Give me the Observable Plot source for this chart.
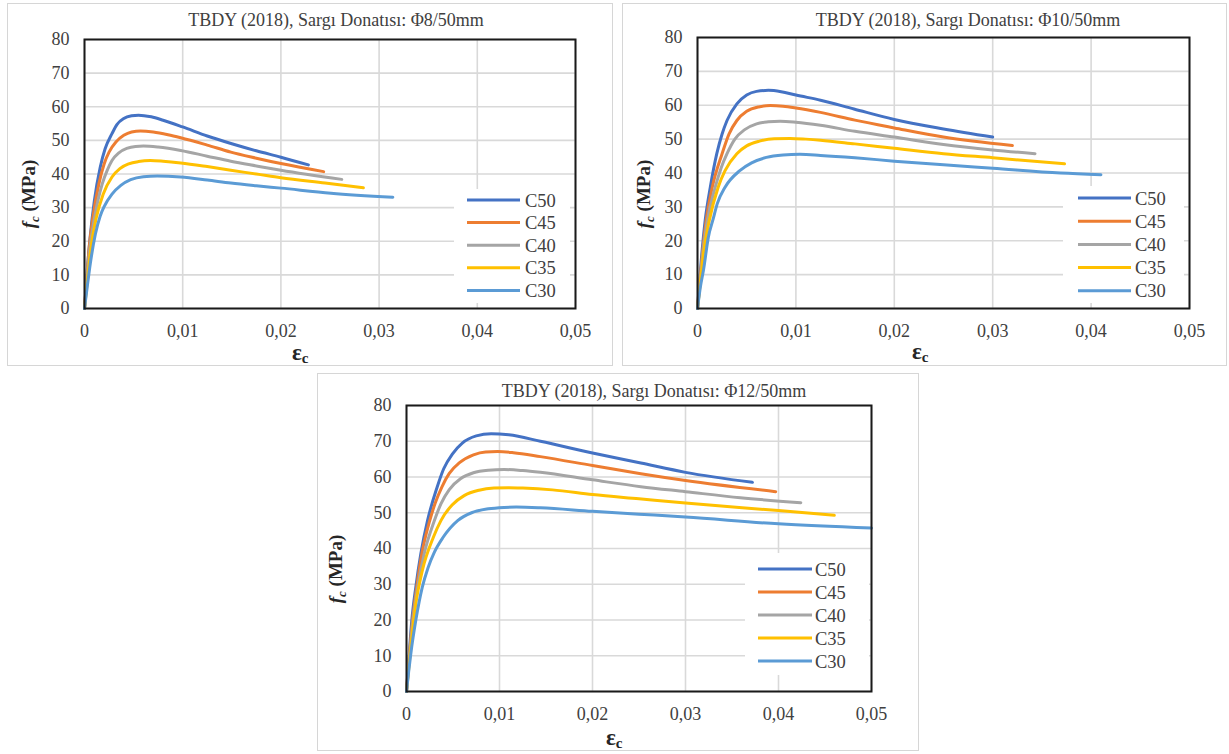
<!DOCTYPE html>
<html><head><meta charset="utf-8">
<script src="https://cdn.jsdelivr.net/npm/d3@7"></script>
<script src="https://cdn.jsdelivr.net/npm/@observablehq/plot@0.6"></script>
<style>
body{margin:0;background:#fff;}
#root{position:relative;width:1229px;height:754px;overflow:hidden;font-family:"Liberation Serif","Times New Roman",serif;}
.panel{position:absolute;border:1.5px solid #d6d6d6;box-sizing:border-box;background:#fff;}
.plotwrap{position:absolute;}
.plotwrap svg text{font-family:"Liberation Serif","Times New Roman",serif !important;}
</style></head><body><div id="root"></div>
<script>
// ---------- data ----------
const xTicks = [0, 0.01, 0.02, 0.03, 0.04, 0.05];
const xTickLabels = ["0", "0,01", "0,02", "0,03", "0,04", "0,05"];
const yTicks = [0, 10, 20, 30, 40, 50, 60, 70, 80];
const yTickLabels = ["0", "10", "20", "30", "40", "50", "60", "70", "80"];
const seriesNames = ["C50", "C45", "C40", "C35", "C30"];
const seriesColors = ["#4472C4", "#ED7D31", "#A5A5A5", "#FFC000", "#5B9BD5"];
const panelTitles = [
  "TBDY (2018), Sargı Donatısı: Φ8/50mm",
  "TBDY (2018), Sargı Donatısı: Φ10/50mm",
  "TBDY (2018), Sargı Donatısı: Φ12/50mm"
];

// Panel 1: Φ8/50mm  [strain εc, stress fc (MPa)]
const p1C50 = [[0,0],[0.00027,11],[0.0006,22],[0.001,32],[0.0016,42],[0.0021,47.5],[0.0028,52],[0.0033,54.7],[0.004,56.5],[0.0048,57.3],[0.0055,57.5],[0.0068,57],[0.008,56],[0.01,54],[0.0125,51.3],[0.015,49],[0.0175,46.9],[0.02,45],[0.0228,42.7]];
const p1C45 = [[0,0],[0.00025,9.5],[0.00044,17],[0.00085,27],[0.00146,37],[0.002,43],[0.0025,46.5],[0.0032,49.5],[0.004,51.5],[0.0048,52.5],[0.0057,52.8],[0.007,52.5],[0.0085,51.7],[0.0098,50.8],[0.0125,48.6],[0.0149,46.5],[0.0175,44.7],[0.02,43.1],[0.02435,40.7]];
const p1C40 = [[0,0],[0.00025,8.5],[0.00051,17],[0.00102,27],[0.0018,37],[0.0023,41],[0.0028,44],[0.0035,46.3],[0.0043,47.6],[0.0052,48.2],[0.006,48.3],[0.0075,48],[0.0098,47],[0.0125,45.3],[0.0149,43.8],[0.0175,42.4],[0.02,41.1],[0.0262,38.4]];
const p1C35 = [[0,0],[0.0003,8.5],[0.0006,17],[0.0012,27],[0.0019,34],[0.0028,39.1],[0.0036,41.6],[0.0045,43],[0.0055,43.7],[0.0067,44],[0.008,43.8],[0.0098,43.3],[0.0125,42.2],[0.0149,41.1],[0.0175,40],[0.02,38.9],[0.0245,37.3],[0.0284,35.9]];
const p1C30 = [[0,0],[0.0003,7],[0.00054,12.3],[0.0011,22],[0.0016,27.5],[0.002,30.3],[0.0028,34],[0.0037,36.6],[0.0047,38.3],[0.006,39.2],[0.0074,39.4],[0.0098,39.1],[0.0125,38.2],[0.0149,37.3],[0.0175,36.5],[0.02,35.8],[0.0251,34.3],[0.0314,33.1]];

// Panel 2: Φ10/50mm
const p2C50 = [[0,0],[0.00025,9.5],[0.00044,16.2],[0.00078,26],[0.0013,35.8],[0.00196,45.7],[0.0025,51.5],[0.003,55.5],[0.004,60.4],[0.005,63],[0.006,64.1],[0.0072,64.4],[0.0085,64],[0.01,63],[0.0125,61.5],[0.0159,58.9],[0.02,55.8],[0.025,53],[0.03,50.6]];
const p2C45 = [[0,0],[0.00027,9],[0.0005,16.2],[0.00088,26],[0.0015,35.8],[0.0025,45.7],[0.0032,51.5],[0.004,55.5],[0.005,58.2],[0.0062,59.5],[0.0074,59.9],[0.0087,59.7],[0.01,59.2],[0.0125,57.9],[0.016,55.6],[0.02,53.3],[0.025,50.6],[0.032,48.1]];
const p2C40 = [[0,0],[0.0003,8.5],[0.00054,16.2],[0.001,26],[0.0018,35.8],[0.0024,41.5],[0.003,45.7],[0.0038,50],[0.0048,52.8],[0.006,54.5],[0.0072,55.1],[0.0084,55.3],[0.01,55],[0.0125,54.1],[0.016,52.3],[0.02,50.6],[0.025,48.4],[0.03,46.8],[0.0343,45.7]];
const p2C35 = [[0,0],[0.0003,8],[0.0006,16.2],[0.0012,26],[0.0021,35.8],[0.0028,40.7],[0.004,45.7],[0.005,48],[0.0063,49.4],[0.0078,50.1],[0.0094,50.2],[0.011,50],[0.0125,49.7],[0.016,48.6],[0.02,47.3],[0.025,45.7],[0.03,44.5],[0.0373,42.7]];
const p2C30 = [[0,0],[0.0003,6.5],[0.0006,11.2],[0.0011,21],[0.0016,26.5],[0.002,30.9],[0.0028,35.8],[0.0043,40.7],[0.0055,43],[0.007,44.6],[0.0087,45.3],[0.0104,45.5],[0.0125,45.2],[0.016,44.5],[0.02,43.5],[0.025,42.4],[0.03,41.4],[0.0369,40],[0.041,39.5]];

// Panel 3: Φ12/50mm
const p3C50 = [[0,0],[0.00029,10.5],[0.00057,19.9],[0.001,29.2],[0.00154,38.5],[0.00226,47.8],[0.0033,57.2],[0.004,62.3],[0.00495,66.5],[0.006,69.5],[0.0075,71.5],[0.0091,72.1],[0.011,71.8],[0.0144,70],[0.02,66.7],[0.0252,63.9],[0.03,61.3],[0.0372,58.5]];
const p3C45 = [[0,0],[0.0003,9.8],[0.00065,19.9],[0.0011,29.2],[0.00165,38.5],[0.0025,47.8],[0.0031,52.8],[0.0038,57.2],[0.0046,61],[0.0057,64],[0.0072,66.2],[0.0085,67],[0.0098,67.1],[0.0115,66.8],[0.0144,65.7],[0.02,63.2],[0.0252,60.9],[0.03,59],[0.0397,55.9]];
const p3C40 = [[0,0],[0.0003,9],[0.0007,19.9],[0.0012,29.2],[0.0019,38.5],[0.003,47.8],[0.0037,52.5],[0.0046,56.5],[0.0058,59.5],[0.0072,61.2],[0.0088,61.9],[0.0105,62.1],[0.0125,61.8],[0.0144,61.3],[0.02,59.2],[0.0252,57.3],[0.03,55.9],[0.0359,54.2],[0.0424,52.8]];
const p3C35 = [[0,0],[0.00028,7.5],[0.00057,15.2],[0.001,24.5],[0.0017,33.8],[0.0029,43.2],[0.0037,47.8],[0.0049,52.2],[0.0062,54.8],[0.0078,56.3],[0.0094,56.9],[0.011,57],[0.0125,56.9],[0.0157,56.4],[0.02,55.1],[0.025,53.9],[0.03,52.7],[0.04,50.6],[0.046,49.3]];
const p3C30 = [[0,0],[0.00023,5.5],[0.00046,10.5],[0.001,19.9],[0.0017,29.2],[0.0023,34.5],[0.003,39],[0.0039,43],[0.0055,47.8],[0.007,50],[0.0088,51.1],[0.0105,51.5],[0.0118,51.6],[0.0144,51.4],[0.02,50.4],[0.025,49.6],[0.03,48.8],[0.04,46.9],[0.05,45.7]];

const panelSeries = [
  [p1C50, p1C45, p1C40, p1C35, p1C30],
  [p2C50, p2C45, p2C40, p2C35, p2C30],
  [p3C50, p3C45, p3C40, p3C35, p3C30]
];

// ---------- layout (positions only) ----------
const layout = [
  {left:7, top:3, width:606, height:363, mL:77, mR:38, mT:36, mB:58,
   titleX:336, titleY:26, yLabX:35, yLabY:194, epsX:292, epsY:360,
   leg:{x:454, y:189, w:116, h:114, l1:467, l2:520, tx:525, y0:200, dy:22.6}},
  {left:622, top:3, width:605, height:363, mL:75, mR:38, mT:34, mB:58,
   titleX:968, titleY:26, yLabX:650, yLabY:194, epsX:912, epsY:359,
   leg:{x:1063, y:186, w:121, h:117, l1:1078, l2:1131, tx:1135, y0:198, dy:23.2}},
  {left:317, top:373, width:602, height:378, mL:89, mR:48, mT:32, mB:60,
   titleX:654, titleY:397, yLabX:342, yLabY:569, epsX:606, epsY:745,
   leg:{x:745, y:553, w:124, h:122, l1:758, l2:812, tx:815, y0:569, dy:23}}
];

const root = document.getElementById("root");
const fmtX = d => xTickLabels[xTicks.findIndex(t => Math.abs(t - d) < 1e-9)];
const fmtY = d => yTickLabels[yTicks.findIndex(t => Math.abs(t - d) < 1e-9)];

layout.forEach((L, p) => {
  const frame = document.createElement("div");
  frame.className = "panel";
  Object.assign(frame.style, {left: L.left + "px", top: L.top + "px", width: L.width + "px", height: L.height + "px"});
  root.appendChild(frame);

  const rows = [];
  panelSeries[p].forEach((arr, i) => arr.forEach(([e, f]) => rows.push({s: seriesNames[i], e, f})));

  const chart = Plot.plot({
    width: L.width, height: L.height,
    marginLeft: L.mL, marginRight: L.mR, marginTop: L.mT, marginBottom: L.mB,
    style: {fontFamily: "'Liberation Serif', 'Times New Roman', serif", fontSize: "18px", color: "#404040", background: "transparent", overflow: "visible"},
    x: {domain: [0, 0.05], ticks: xTicks, tickFormat: fmtX, tickSize: 0, tickPadding: 16, label: null},
    y: {domain: [0, 80], ticks: yTicks, tickFormat: fmtY, tickSize: 0, tickPadding: 15, label: null},
    color: {domain: seriesNames, range: seriesColors},
    marks: [
      Plot.gridX(xTicks, {stroke: "#d9d9d9", strokeOpacity: 1, strokeWidth: 1.6}),
      Plot.gridY(yTicks, {stroke: "#d9d9d9", strokeOpacity: 1, strokeWidth: 1.6}),
      Plot.line(rows, {x: "e", y: "f", z: "s", stroke: "s", strokeWidth: 3, curve: "monotone-x"}),
      Plot.frame({stroke: "#1a1a1a", strokeWidth: 2})
    ]
  });
  const wrap = document.createElement("div");
  wrap.className = "plotwrap";
  Object.assign(wrap.style, {left: L.left + "px", top: L.top + "px"});
  wrap.appendChild(chart);
  root.appendChild(wrap);
});

// ---------- overlay: titles, axis titles, legends ----------
const ov = d3.select(root).append("svg")
  .attr("width", 1229).attr("height", 754)
  .style("position", "absolute").style("left", "0px").style("top", "0px")
  .style("font-family", "'Liberation Serif', 'Times New Roman', serif");

layout.forEach((L, p) => {
  ov.append("text").attr("x", L.titleX).attr("y", L.titleY)
    .attr("text-anchor", "middle").attr("font-size", 18).attr("fill", "#404040")
    .text(panelTitles[p]);

  const yl = ov.append("text")
    .attr("transform", `translate(${L.yLabX},${L.yLabY}) rotate(-90)`)
    .attr("text-anchor", "middle").attr("font-size", 19).attr("font-weight", "bold").attr("fill", "#262626");
  yl.append("tspan").attr("font-style", "italic").text("f");
  yl.append("tspan").attr("font-style", "italic").attr("font-size", 13).attr("dy", 4).text("c");
  yl.append("tspan").attr("dy", -4).text(" (MPa)");

  const xl = ov.append("text").attr("x", L.epsX).attr("y", L.epsY)
    .attr("font-size", 23).attr("font-weight", "bold").attr("fill", "#262626");
  xl.append("tspan").text("ε");
  xl.append("tspan").attr("font-size", 15).attr("dy", 3).text("c");

  const g = L.leg;
  ov.append("rect").attr("x", g.x).attr("y", g.y).attr("width", g.w).attr("height", g.h).attr("fill", "#fff");
  seriesNames.forEach((s, i) => {
    const yy = g.y0 + i * g.dy;
    ov.append("line").attr("x1", g.l1).attr("x2", g.l2).attr("y1", yy).attr("y2", yy)
      .attr("stroke", seriesColors[i]).attr("stroke-width", 3);
    ov.append("text").attr("x", g.tx).attr("y", yy + 6.5).attr("font-size", 18.5).attr("fill", "#404040").text(s);
  });
});
</script></body></html>
